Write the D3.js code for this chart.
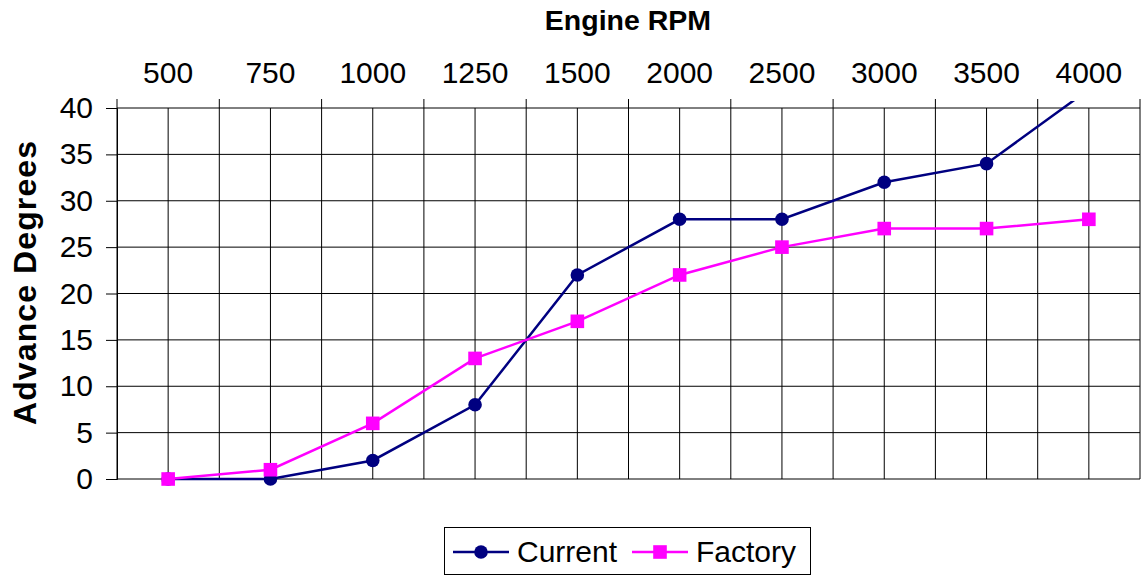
<!DOCTYPE html>
<html>
<head>
<meta charset="utf-8">
<script src="https://cdn.jsdelivr.net/npm/d3@7"></script>
<style>
  body { margin: 0; background: #fff; }
  svg { display: block; font-family: "Liberation Sans", Arial, sans-serif; }
</style>
</head>
<body>
<svg id="chart" width="1144" height="582"></svg>
<script>
// Chart data
let rpm = ["500", "750", "1000", "1250", "1500", "2000", "2500", "3000", "3500", "4000"];
let current = [0, 0, 2, 8, 22, 28, 28, 32, 34, 42];
let factory = [0, 1, 6, 13, 17, 22, 25, 27, 27, 28];
let yTicks = [0, 5, 10, 15, 20, 25, 30, 35, 40];

let series = [
    { name: "Current", values: current, colour: "#000080", marker: "circle" },
    { name: "Factory", values: factory, colour: "#ff00ff", marker: "square" }
];

let svg = d3.select("#chart");
let plotLeft = 117, plotRight = 1140, plotTop = 108, plotBottom = 479;

let x = d3.scaleBand().domain(rpm).range([plotLeft, plotRight]).padding(0);
let y = d3.scaleLinear().domain([0, 40]).range([plotBottom, plotTop]);
let half = x.bandwidth() / 2;

// gridlines: one at every band edge and every band centre
let vLines = [];
rpm.forEach(function (r) {
    vLines.push(x(r));
    vLines.push(x(r) + half);
});
vLines.push(plotRight);

let grid = svg.append("g").attr("stroke", "#000").attr("stroke-width", 1);
grid.selectAll("line.v")
    .data(vLines)
    .enter().append("line")
    .attr("class", "v")
    .attr("x1", d => d).attr("x2", d => d)
    .attr("y1", plotTop).attr("y2", plotBottom);
grid.selectAll("line.h")
    .data(yTicks)
    .enter().append("line")
    .attr("class", "h")
    .attr("x1", plotLeft).attr("x2", plotRight)
    .attr("y1", d => y(d)).attr("y2", d => y(d));

// top axis (category labels above the plot)
let xAxis = d3.axisTop(x).tickSize(0).tickPadding(25);
let gx = svg.append("g").attr("transform", "translate(0," + plotTop + ")").call(xAxis);
gx.select(".domain").remove();
gx.selectAll("text").attr("font-size", 30).attr("fill", "#000").attr("font-family", "Liberation Sans");
// tick marks sit on band edges
svg.append("g").attr("stroke", "#000")
    .selectAll("line")
    .data(rpm.map(r => x(r)).concat([plotRight]))
    .enter().append("line")
    .attr("x1", d => d).attr("x2", d => d)
    .attr("y1", plotTop - 9).attr("y2", plotTop);

// left axis
let yAxis = d3.axisLeft(y).tickValues(yTicks).tickSize(11).tickPadding(13);
let gy = svg.append("g").attr("transform", "translate(" + plotLeft + ",0)").call(yAxis);
gy.select(".domain").attr("stroke", "#000");
gy.selectAll("line").attr("stroke", "#000");
gy.selectAll("text").attr("font-size", 30).attr("fill", "#000").attr("font-family", "Liberation Sans");

// axis titles
svg.append("text")
    .attr("x", 628).attr("y", 30)
    .attr("text-anchor", "middle")
    .attr("font-size", 28.5).attr("font-weight", "bold")
    .text("Engine RPM");
svg.append("text")
    .attr("transform", "translate(36,283) rotate(-90)")
    .attr("text-anchor", "middle")
    .attr("font-size", 32).attr("font-weight", "bold")
    .attr("textLength", 284).attr("lengthAdjust", "spacing")
    .text("Advance Degrees");

// series
svg.append("defs").append("clipPath").attr("id", "plotclip")
    .append("rect").attr("x", 0).attr("y", plotTop - 7).attr("width", 1144).attr("height", 582);

let line = d3.line()
    .x((d, i) => x(rpm[i]) + half)
    .y(d => y(d));

let plot = svg.append("g").attr("clip-path", "url(#plotclip)");

function drawMarker(g, type, cx, cy, colour) {
    if (type === "circle") {
        g.append("circle").attr("cx", cx).attr("cy", cy).attr("r", 6.8).attr("fill", colour);
    } else {
        g.append("rect").attr("x", cx - 6.8).attr("y", cy - 6.8)
            .attr("width", 13.6).attr("height", 13.6).attr("fill", colour);
    }
}

series.forEach(function (s) {
    plot.append("path")
        .datum(s.values)
        .attr("d", line)
        .attr("fill", "none")
        .attr("stroke", s.colour)
        .attr("stroke-width", 2.5);
    let m = plot.append("g");
    s.values.forEach(function (v, i) {
        if (v <= 40) drawMarker(m, s.marker, x(rpm[i]) + half, y(v), s.colour);
    });
});

// legend
let legend = svg.append("g");
legend.append("rect")
    .attr("x", 444.5).attr("y", 527.5).attr("width", 366).attr("height", 47)
    .attr("fill", "#fff").attr("stroke", "#000");
let legendPos = [453, 632];
series.forEach(function (s, i) {
    let lx = legendPos[i];
    legend.append("line")
        .attr("x1", lx).attr("x2", lx + 56)
        .attr("y1", 552).attr("y2", 552)
        .attr("stroke", s.colour).attr("stroke-width", 2.5);
    drawMarker(legend, s.marker, lx + 28, 552, s.colour);
    legend.append("text")
        .attr("x", lx + 64).attr("y", 562)
        .attr("font-size", 30)
        .text(s.name);
});
</script>
</body>
</html>
